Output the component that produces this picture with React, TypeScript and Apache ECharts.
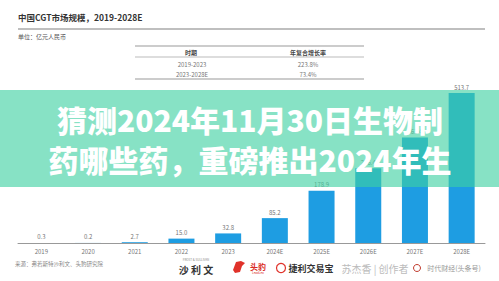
import React, { useEffect, useRef } from "react";
import * as echarts from "echarts";

const categories = ["2019", "2020", "2021", "2022", "2023", "2024E", "2025E", "2026E", "2027E", "2028E"];
const marketSize = [0.3, 0.2, 2.7, 15.0, 32.8, 85.2, 178.9, 256.4, 361.4, 513.7];
const periods = ["2019-2023", "2023-2028E"];
const cagrValues = ["223.8%", "73.4%"];
const tableHeaders = ["时期", "年复合增长率"];
const chartTitle = "中国CGT市场规模，2019-2028E";
const unitText = "单位：亿元人民币";
const sourceText = "来源：弗若斯特沙利文、头豹研究院";
const bannerLines = ["猜测2024年11月30日生物制", "药哪些药，重磅推出2024年生"];

const FONT = "'Noto Sans CJK SC', 'Noto Sans', sans-serif";

export default function App() {
  const ref = useRef<HTMLDivElement>(null);
  useEffect(() => {
    if (!ref.current) return;
    const chart = echarts.init(ref.current, undefined, { renderer: "svg" });
    const graphic: any[] = [
      { type: "text", left: 18, top: 13, style: { text: chartTitle, font: `bold 8.5px ${FONT}`, fill: "#333" } },
      { type: "line", shape: { x1: 18, y1: 29, x2: 485, y2: 29 }, style: { stroke: "#aaa", lineWidth: 1.5 } },
      { type: "text", left: 18, top: 33, style: { text: unitText, font: `6px ${FONT}`, fill: "#555" } },
      { type: "line", shape: { x1: 135, y1: 46, x2: 364, y2: 46 }, style: { stroke: "#999", lineWidth: 1.2 } },
      { type: "line", shape: { x1: 135, y1: 57, x2: 364, y2: 57 }, style: { stroke: "#aaa", lineWidth: 0.8 } },
      { type: "line", shape: { x1: 135, y1: 79, x2: 364, y2: 79 }, style: { stroke: "#999", lineWidth: 1.2 } },
      { type: "text", x: 191, y: 52, style: { text: tableHeaders[0], font: `bold 6px ${FONT}`, fill: "#444", align: "center", verticalAlign: "middle" } },
      { type: "text", x: 308, y: 52, style: { text: tableHeaders[1], font: `bold 6px ${FONT}`, fill: "#444", align: "center", verticalAlign: "middle" } },
      ...periods.map((p, i) => ({ type: "text", x: 192, y: 64 + i * 10, style: { text: p, font: `6px ${FONT}`, fill: "#777", align: "center", verticalAlign: "middle" } })),
      ...cagrValues.map((c, i) => ({ type: "text", x: 308, y: 64 + i * 10, style: { text: c, font: `6px ${FONT}`, fill: "#777", align: "center", verticalAlign: "middle" } })),
      { type: "rect", z: 100, shape: { x: 0, y: 90, width: 499, height: 97 }, style: { fill: "rgba(62,208,161,0.62)" } },
      ...bannerLines.map((t, i) => ({ type: "text", z: 101, x: 250, y: 119 + i * 40, style: { text: t, font: `900 30px ${FONT}`, fill: "#ffffff", align: "center", verticalAlign: "middle" } })),
      { type: "text", left: 15, top: 261, style: { text: sourceText, font: `5.5px ${FONT}`, fill: "#888" } },
      { type: "text", x: 196, y: 259.5, style: { text: "FROST & SULLIVAN", font: `3px ${FONT}`, fill: "#888", align: "center", verticalAlign: "middle" } },
      { type: "text", x: 196, y: 269, style: { text: "沙 利 文", font: `bold 10px ${FONT}`, fill: "#333", align: "center", verticalAlign: "middle" } },
      { type: "polygon", shape: { points: [[233, 270], [236, 262], [241, 261], [245, 263], [242, 266], [240, 272], [235, 273]] }, style: { fill: "#e0322a" } },
      { type: "text", x: 258, y: 266, style: { text: "头豹", font: `bold 8px ${FONT}`, fill: "#d92a22", align: "center", verticalAlign: "middle" } },
      { type: "text", x: 258, y: 273, style: { text: "LeadLeo", font: `3px ${FONT}`, fill: "#d92a22", align: "center", verticalAlign: "middle" } },
      { type: "circle", shape: { cx: 281, cy: 268, r: 4.5 }, style: { fill: "none", stroke: "#e0322a", lineWidth: 1.2 } },
      { type: "text", x: 311, y: 268, style: { text: "捷利交易宝", font: `bold 9px ${FONT}`, fill: "#333", align: "center", verticalAlign: "middle" } },
      { type: "text", x: 375, y: 268, style: { text: "苏杰香 | 创作者", font: `10px ${FONT}`, fill: "#bbb", align: "center", verticalAlign: "middle" } },
      { type: "circle", shape: { cx: 417, cy: 268, r: 3.5 }, style: { fill: "none", stroke: "#c0392b", lineWidth: 1 } },
      { type: "text", x: 454, y: 268, style: { text: "时代财经(头条号)", font: `7px ${FONT}`, fill: "#999", align: "center", verticalAlign: "middle" } },
    ];
    chart.setOption({
      animation: false,
      backgroundColor: "#ffffff",
      grid: { left: 18, right: 14, top: 93, bottom: 38 },
      xAxis: {
        type: "category",
        data: categories,
        axisTick: { show: false },
        axisLine: { lineStyle: { color: "#999", width: 1 } },
        axisLabel: { fontSize: 6, color: "#777", margin: 5, fontFamily: FONT },
      },
      yAxis: { type: "value", min: 0, max: 513.7, show: false, splitLine: { show: false } },
      series: [
        {
          type: "bar",
          data: marketSize,
          barWidth: 26,
          itemStyle: { color: "#1e9de2" },
          label: { show: true, position: "top", distance: 3, fontSize: 6, color: "#777", fontFamily: FONT, formatter: (p: any) => Number(p.value).toFixed(1) },
        },
      ],
      graphic,
    });
    return () => chart.dispose();
  }, []);
  return <div ref={ref} style={{ position: "fixed", left: 0, top: 0, width: 499, height: 281 }} />;
}
